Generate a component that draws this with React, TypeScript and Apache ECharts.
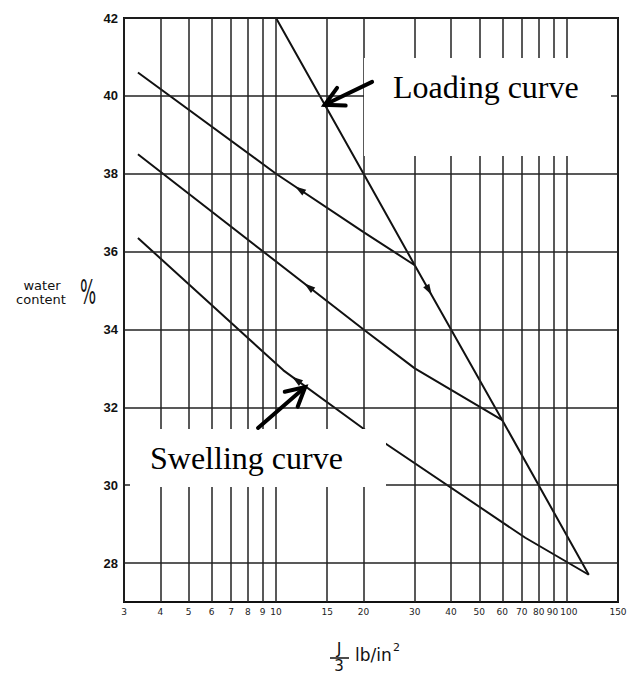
import { useEffect, useRef } from "react";
import * as echarts from "echarts";

// Axis ticks: pressure (log scale) and water content
const X_TICKS = [3, 4, 5, 6, 7, 8, 9, 10, 15, 20, 30, 40, 50, 60, 70, 80, 90, 100, 150];
const Y_TICKS = [28, 30, 32, 34, 36, 38, 40, 42];

// Virgin loading line: pressure (lb/in²) -> water content (%)
const LOADING_P = [10, 20, 30, 60, 119];
const LOADING_W = [42, 38, 35.65, 31.67, 27.7];

// Swelling (unloading) branches, listed in the order they were followed
const SWELL_30_P = [30, 20, 10, 3.35];
const SWELL_30_W = [35.65, 36.5, 38.0, 40.6];
const SWELL_60_P = [60, 30, 20, 3.35];
const SWELL_60_W = [31.67, 33.0, 34.0, 38.5];
const SWELL_119_P = [119, 72, 20, 10.6, 3.35];
const SWELL_119_W = [27.7, 28.65, 31.45, 32.95, 36.35];

// Direction arrowheads: which branch and at what pressure
const ARROW_AT = [
  { ps: LOADING_P, ws: LOADING_W, at: 33.5 },
  { ps: SWELL_30_P, ws: SWELL_30_W, at: 12.1 },
  { ps: SWELL_60_P, ws: SWELL_60_W, at: 13 },
  { ps: SWELL_119_P, ws: SWELL_119_W, at: 11.8 },
];

// Callout arrows (tail -> tip) in pressure / water content units
const NOTE_ARROWS = [
  { tail: [21.4, 40.36], tip: [14.7, 39.77] },
  { tail: [8.67, 31.47], tip: [12.6, 32.52] },
];

const pairs = (ps: number[], ws: number[]) => ps.map((p, i) => [p, ws[i]]);

// Locate a point on a branch (branches are straight between vertices on the log axis)
function onBranch(ps: number[], ws: number[], at: number) {
  for (let i = 0; i < ps.length - 1; i++) {
    const a = ps[i];
    const b = ps[i + 1];
    if ((at - a) * (at - b) <= 0) {
      const t = (Math.log(at) - Math.log(a)) / (Math.log(b) - Math.log(a));
      return { point: [at, ws[i] + t * (ws[i + 1] - ws[i])], next: [b, ws[i + 1]] };
    }
  }
  return { point: [ps[0], ws[0]], next: [ps[1], ws[1]] };
}

const ARROWS = ARROW_AT.map((a) => onBranch(a.ps, a.ws, a.at));

const INK = "#111";

export default function App() {
  const ref = useRef<HTMLDivElement>(null);

  useEffect(() => {
    if (!ref.current) return;
    const chart = echarts.init(ref.current, undefined, { renderer: "svg" });

    const curve = (name: string, ps: number[], ws: number[]) => ({
      name,
      type: "line",
      data: pairs(ps, ws),
      showSymbol: false,
      symbol: "none",
      silent: true,
      z: 3,
      lineStyle: { color: INK, width: 2 },
    });

    const xLabel = (v: number) => ({
      show: true,
      position: "start",
      distance: 5,
      color: "#222",
      fontSize: 9,
      fontFamily: "DejaVu Sans",
      // the crowded 90 / 100 pair is nudged apart a little
      offset: v === 100 ? [2, 0] : v === 90 ? [-1, 0] : [0, 0],
      formatter: (p: any) => String(p.value),
    });
    const yLabel = {
      show: true,
      position: "start",
      distance: 6,
      color: INK,
      fontSize: 13,
      fontWeight: "bold",
      fontFamily: "Liberation Sans",
      formatter: (p: any) => String(p.value),
    };

    const small = (text: string, x: number, y: number, size: number, align = "center") => ({
      type: "text",
      x,
      y,
      style: { text, fontSize: size, fontFamily: "DejaVu Sans", fill: INK, align, verticalAlign: "middle" },
    });

    chart.setOption({
      animation: false,
      backgroundColor: "#fff",
      grid: {
        left: 124,
        top: 18,
        width: 494,
        height: 584,
        show: true,
        borderColor: INK,
        borderWidth: 2,
        backgroundColor: "transparent",
      },
      xAxis: {
        type: "log",
        logBase: 10,
        min: 3,
        max: 150,
        axisLine: { show: false },
        axisTick: { show: false },
        axisLabel: { show: false },
        splitLine: { show: false },
      },
      yAxis: {
        type: "value",
        min: 27,
        max: 42,
        axisLine: { show: false },
        axisTick: { show: false },
        axisLabel: { show: false },
        splitLine: { show: false },
      },
      series: [
        {
          name: "grid",
          type: "line",
          data: [],
          z: 1,
          silent: true,
          markLine: {
            silent: true,
            symbol: "none",
            animation: false,
            lineStyle: { color: "#222", width: 1.5, type: "solid" },
            data: [
              ...X_TICKS.map((v) => ({ xAxis: v, label: xLabel(v) })),
              ...Y_TICKS.map((v) => ({ yAxis: v, label: yLabel })),
            ],
          },
        },
        curve("Loading", LOADING_P, LOADING_W),
        curve("Swelling from 30", SWELL_30_P, SWELL_30_W),
        curve("Swelling from 60", SWELL_60_P, SWELL_60_W),
        curve("Swelling from 119", SWELL_119_P, SWELL_119_W),
        {
          name: "direction",
          type: "custom",
          z: 4,
          silent: true,
          clip: false,
          data: ARROWS.map((a, i) => [a.point[0], a.point[1], i]),
          renderItem: (params: any, api: any) => {
            const g = ARROWS[params.dataIndex];
            const p = api.coord([api.value(0), api.value(1)]);
            const q = api.coord(g.next);
            const d = Math.hypot(q[0] - p[0], q[1] - p[1]) || 1;
            const ux = (q[0] - p[0]) / d;
            const uy = (q[1] - p[1]) / d;
            const tip = [p[0] + ux * 6, p[1] + uy * 6];
            const bx = p[0] - ux * 5;
            const by = p[1] - uy * 5;
            return {
              type: "polygon",
              shape: {
                points: [tip, [bx - uy * 3.5, by + ux * 3.5], [bx + uy * 3.5, by - ux * 3.5]],
              },
              style: { fill: INK },
            };
          },
        },
        {
          name: "callouts",
          type: "custom",
          z: 20,
          silent: true,
          clip: false,
          data: NOTE_ARROWS.map((n) => [n.tip[0], n.tip[1]]),
          renderItem: (params: any, api: any) => {
            const n = NOTE_ARROWS[params.dataIndex];
            const a = api.coord(n.tail);
            const b = api.coord(n.tip);
            const d = Math.hypot(a[0] - b[0], a[1] - b[1]) || 1;
            const ux = (a[0] - b[0]) / d;
            const uy = (a[1] - b[1]) / d;
            const arm = (ang: number) => {
              const c = Math.cos(ang);
              const s = Math.sin(ang);
              return [b[0] + 21 * (ux * c - uy * s), b[1] + 21 * (ux * s + uy * c)];
            };
            const ang = (28 * Math.PI) / 180;
            return {
              type: "group",
              children: [
                {
                  type: "line",
                  shape: { x1: a[0], y1: a[1], x2: b[0], y2: b[1] },
                  style: { stroke: "#000", lineWidth: 4, lineCap: "round" },
                },
                {
                  type: "polyline",
                  shape: { points: [arm(ang), b, arm(-ang)] },
                  style: { stroke: "#000", lineWidth: 4, lineCap: "round", lineJoin: "miter", fill: null },
                },
              ],
            };
          },
        },
      ],
      graphic: [
        // white label panels
        { type: "rect", z: 10, shape: { x: 364, y: 58, width: 247, height: 98 }, style: { fill: "#fff" } },
        { type: "rect", z: 10, shape: { x: 130, y: 429, width: 256, height: 58 }, style: { fill: "#fff" } },
        {
          type: "text",
          z: 11,
          x: 393,
          y: 87,
          style: {
            text: "Loading curve",
            fontSize: 32,
            fontFamily: '"Liberation Serif", "Times New Roman", serif',
            fill: "#000",
            align: "left",
            verticalAlign: "middle",
          },
        },
        {
          type: "text",
          z: 11,
          x: 150,
          y: 458,
          style: {
            text: "Swelling curve",
            fontSize: 32,
            fontFamily: '"Liberation Serif", "Times New Roman", serif',
            fill: "#000",
            align: "left",
            verticalAlign: "middle",
          },
        },
        // y-axis title
        small("water", 42, 285, 13),
        small("content", 41, 299, 13),
        {
          type: "text",
          x: 88,
          y: 292,
          scaleX: 0.5,
          style: { text: "%", fontSize: 34, fontFamily: "DejaVu Sans", fill: INK, align: "center", verticalAlign: "middle" },
        },
        // x-axis title: J/3 lb/in²
        small("J", 339, 648, 16),
        { type: "line", shape: { x1: 330, y1: 658, x2: 349, y2: 658 }, style: { stroke: INK, lineWidth: 1.5 } },
        small("3", 339, 666, 15),
        small("lb/in", 355, 655, 17, "left"),
        small("2", 393, 647, 11, "left"),
      ],
    });

    return () => chart.dispose();
  }, []);

  return (
    <div
      ref={ref}
      style={{ position: "absolute", left: 0, top: 0, width: 633, height: 675, background: "#fff" }}
    />
  );
}
